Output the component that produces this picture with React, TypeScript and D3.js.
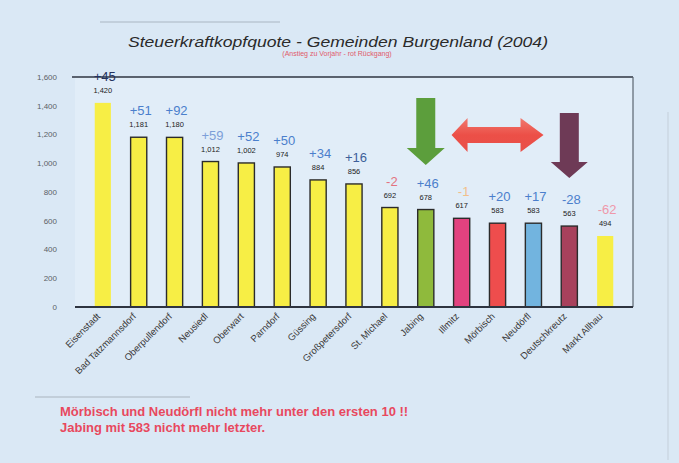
import React, { useEffect } from 'react';
import * as d3 from 'd3';

// Gemeinden, Steuerkraftkopfquote 2004
const towns = [
  'Eisenstadt', 'Bad Tatzmannsdorf', 'Oberpullendorf', 'Neusiedl', 'Oberwart',
  'Parndorf', 'Güssing', 'Großpetersdorf', 'St. Michael', 'Jabing',
  'Illmitz', 'Mörbisch', 'Neudörfl', 'Deutschkreutz', 'Markt Allhau',
];
const values = [1420, 1181, 1180, 1012, 1002, 974, 884, 856, 692, 678, 617, 583, 583, 563, 494];
const changes = ['+45', '+51', '+92', '+59', '+52', '+50', '+34', '+16', '-2', '+46', '-1', '+20', '+17', '-28', '-62'];
const barColors = [
  '#f7ee45', '#f7ee45', '#f7ee45', '#f7ee45', '#f7ee45', '#f7ee45', '#f7ee45', '#f7ee45',
  '#f7ee45', '#8fba3c', '#e2427f', '#ee4d4d', '#72b4df', '#a8415c', '#f7ee45',
];
const changeColors = [
  '#23325f', '#4b7fcc', '#4b7fcc', '#7d9fd8', '#4b7fcc', '#4b7fcc', '#4b7fcc', '#3d5f9a',
  '#e3737f', '#4b7fcc', '#f2bf8a', '#4b7fcc', '#4b7fcc', '#4b7fcc', '#ef98aa',
];
const yTicks = [0, 200, 400, 600, 800, 1000, 1200, 1400, 1600];

const W = 679;
const H = 463;
const plot = { left: 75, right: 633, top: 77, bottom: 307 };

const App: React.FC = () => {
  useEffect(() => {
    document.body.style.margin = '0';
  }, []);

  const x = d3.scaleBand<string>().domain(towns).range([plot.left, plot.right]).padding(0.55);
  const y = d3.scaleLinear().domain([0, 1600]).range([plot.bottom, plot.top]);
  const fmt = d3.format(',');
  const cx = (i: number) => (x(towns[i]) as number) + x.bandwidth() / 2;

  // block arrow pointing down
  const downArrow = (c: number, top: number, headY: number, tip: number, shaftW: number, headW: number) =>
    `M${c - shaftW / 2},${top} L${c + shaftW / 2},${top} L${c + shaftW / 2},${headY} L${c + headW / 2},${headY} ` +
    `L${c},${tip} L${c - headW / 2},${headY} L${c - shaftW / 2},${headY} Z`;

  const dc = cx(11);
  const dbl = [
    [dc - 46, 135], [dc - 30, 118], [dc - 30, 127], [dc + 23, 127], [dc + 23, 118],
    [dc + 46, 135], [dc + 23, 152], [dc + 23, 143], [dc - 30, 143], [dc - 30, 152],
  ];

  return (
    <svg width={W} height={H} style={{ display: 'block', fontFamily: 'Arial, "Liberation Sans", sans-serif' }}>
      <defs>
        <linearGradient id="redArrow" x1="0" y1="0" x2="0" y2="1">
          <stop offset="0" stopColor="#f07a70" />
          <stop offset="0.5" stopColor="#ec4f47" />
          <stop offset="1" stopColor="#e8504a" />
        </linearGradient>
      </defs>
      <rect width={W} height={H} fill="#dae8f5" />
      <rect x={plot.left} y={plot.top} width={plot.right - plot.left} height={plot.bottom - plot.top} fill="#e1edf8" />

      {/* scan artefacts */}
      <line x1={100} x2={280} y1={22} y2={22} stroke="#aab6c2" strokeWidth={1} />
      <line x1={668} x2={668} y1={112} y2={460} stroke="#c4cfda" strokeWidth={1} />
      <line x1={35} x2={190} y1={397} y2={397} stroke="#aab4be" strokeWidth={1} />

      <text x={338} y={47} textAnchor="middle" fontSize={15} fontStyle="italic" fill="#2a2a2a" textLength={420} lengthAdjust="spacingAndGlyphs">
        Steuerkraftkopfquote  -  Gemeinden Burgenland (2004)
      </text>
      <text x={337} y={56} textAnchor="middle" fontSize={7} fill="#e05a6a">
        (Anstieg zu Vorjahr - rot Rückgang)
      </text>

      {/* frame */}
      <line x1={plot.left - 3} x2={plot.right} y1={plot.top} y2={plot.top} stroke="#2e3440" strokeWidth={1.6} />
      <line x1={plot.right} x2={plot.right} y1={plot.top} y2={plot.bottom} stroke="#5a6470" strokeWidth={1.2} />

      {yTicks.map((t) => (
        <text key={t} x={57} y={y(t)} dy="0.35em" textAnchor="end" fontSize={8} fill="#5a5f66">
          {fmt(t)}
        </text>
      ))}

      {values.map((v, i) => (
        <rect
          key={towns[i]}
          x={x(towns[i])}
          y={y(v)}
          width={x.bandwidth()}
          height={y(0) - y(v)}
          fill={barColors[i]}
          stroke={i === 0 || i === 14 ? 'none' : '#2b2b2b'}
          strokeWidth={1.4}
        />
      ))}
      <line x1={plot.left} x2={plot.right} y1={plot.bottom} y2={plot.bottom} stroke="#2e3440" strokeWidth={2} />

      {values.map((v, i) => (
        <text key={'v' + i} x={cx(i)} y={y(v) - 10} textAnchor="middle" fontSize={7.5} fill="#222">
          {fmt(v)}
        </text>
      ))}
      {values.map((v, i) => (
        <text key={'c' + i} x={cx(i) + 2} y={y(v) - 22} textAnchor="middle" fontSize={13} fill={changeColors[i]}>
          {changes[i]}
        </text>
      ))}

      {towns.map((t, i) => (
        <text
          key={'t' + i}
          transform={`translate(${cx(i) - 2},${plot.bottom + 10}) rotate(-45)`}
          textAnchor="end"
          fontSize={9.5}
          fill="#3a3a3a"
        >
          {t}
        </text>
      ))}

      {/* arrows */}
      <path d={downArrow(cx(9), 98, 148, 165, 19, 38)} fill="#5c9e3c" />
      <path d={downArrow(cx(13), 113, 162, 178, 19, 37)} fill="#6e3a56" />
      <path d={'M' + dbl.map((p) => p.join(',')).join(' L') + ' Z'} fill="url(#redArrow)" />

      <text x={60} y={416} fontSize={13} fontWeight="bold" fill="#e8485e">
        Mörbisch und Neudörfl nicht mehr unter den ersten 10 !!
      </text>
      <text x={60} y={432} fontSize={13} fontWeight="bold" fill="#e8485e">
        Jabing mit 583 nicht mehr letzter.
      </text>
    </svg>
  );
};

export default App;
